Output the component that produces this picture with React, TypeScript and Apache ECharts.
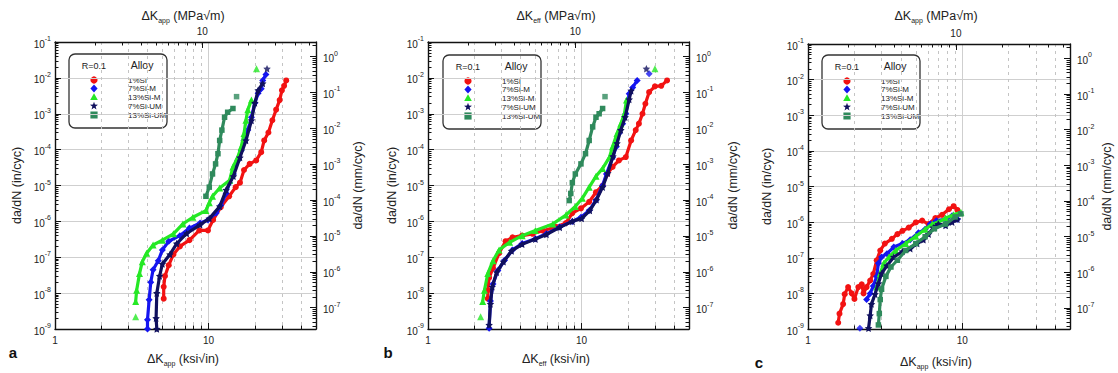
import React, { useEffect, useRef } from 'react';
import * as echarts from 'echarts';

const FONT = '"Liberation Sans", Arial, Helvetica, sans-serif';
const KSI_TO_MPA = 1.0988;
const IN_TO_MM = 25.4;
const X_MIN = 1;
const X_MAX = 50;
const Y_MIN = 1e-9;
const Y_MAX = 1e-1;

// tick labels
const bottomLabels = [1, 10];
const bottomMinorTicks = [2, 3, 4, 5, 6, 7, 8, 9, 20, 30, 40];
const topLabels = [10];
const topMinorTicks = [2, 3, 4, 5, 6, 7, 8, 9, 20, 30, 40, 50];
const leftExponents = [-9, -8, -7, -6, -5, -4, -3, -2, -1];
const rightExponents = [-7, -6, -5, -4, -3, -2, -1, 0];

const alloys = ['1%Si', '7%Si-M', '13%Si-M', '7%Si-UM', '13%Si-UM'];
const colors = ['#f21212', '#1515f0', '#25e825', '#10105e', '#2f8a5c'];

// ---------- panel a : ΔK_app ----------
const si1A = [[5.1, 7e-9], [5.1, 1.5e-8], [5.2, 3e-8], [5.5, 6e-8], [5.9, 1.2e-7], [6.5, 2e-7], [7.5, 3e-7], [8.7, 5.6e-7], [9.9, 5.6e-7], [10.7, 1.1e-6], [12, 2.5e-6], [13.6, 5e-6], [15, 9e-6], [16, 1.2e-5], [17, 2.7e-5], [18.5, 4e-5], [20.4, 5e-5], [22, 8.5e-5], [23, 1.8e-4], [24.5, 3e-4], [26, 6.6e-4], [27.5, 1.3e-3], [29, 2.4e-3], [30, 4.5e-3], [31, 6e-3], [32, 8.5e-3]];
const si7MA = [[4.0, 1e-9], [4.0, 1.8e-9], [4.1, 6.5e-9], [4.2, 2e-8], [4.35, 4.5e-8], [4.7, 8e-8], [5.0, 1.6e-7], [5.5, 2.8e-7], [6.5, 4e-7], [7.5, 6.5e-7], [8.8, 9e-7], [9.9, 1.1e-6], [11.2, 1.7e-6], [12, 2.8e-6], [13, 6e-6], [13.7, 1.2e-5], [14.5, 2.1e-5], [15.5, 5e-5], [16.3, 9.5e-5], [17, 1.8e-4], [18, 3.5e-4], [19, 8e-4], [20, 2e-3], [21, 3.7e-3], [22, 5e-3], [22.5, 8.5e-3], [23.6, 1.25e-2]];
const si13MA = [[3.35, 5.8e-9], [3.4, 1.2e-8], [3.55, 3.5e-8], [3.7, 7.5e-8], [3.95, 1.3e-7], [4.35, 2.2e-7], [5.0, 3e-7], [5.9, 4.5e-7], [6.8, 8.5e-7], [7.9, 1.3e-6], [9.6, 2e-6], [10.1, 3.3e-6], [10.6, 5e-6], [11.8, 8.5e-6], [13.7, 1.4e-5], [14.4, 3.3e-5], [15.5, 6.2e-5], [16.3, 1.2e-4], [17, 2.8e-4], [17.5, 6.6e-4], [18, 1.3e-3], [19, 2.4e-3]];
const si13MAOut = [[3.35, 2.2e-9], [20.5, 1.8e-2]];
const si7UMA = [[4.6, 1e-9], [4.55, 2e-9], [4.6, 1e-8], [4.8, 3e-8], [5.0, 6.5e-8], [5.6, 1.2e-7], [6.2, 2.4e-7], [7.2, 4.6e-7], [8.8, 8e-7], [10.1, 1.2e-6], [11.8, 2.6e-6], [13, 7.5e-6], [14.5, 1.8e-5], [16, 6e-5], [17.5, 1.8e-4], [19, 6.5e-4], [20, 2e-3], [21, 4.5e-3], [22.5, 7e-3]];
const si7UMAOut = [[24, 1.8e-2]];
const si13UMA = [[9.6, 5e-6], [10.1, 9e-6], [10.6, 2.1e-5], [11.1, 4e-5], [11.5, 7.7e-5], [11.8, 1.8e-4], [12.2, 3.5e-4], [12.7, 8e-4], [13.3, 1.1e-3], [14.4, 1.4e-3]];
const si13UMAOut = [[15.2, 3e-3]];

// ---------- panel b : ΔK_eff ----------
const si1B = [[2.45, 7e-9], [2.45, 1.2e-8], [2.5, 2.7e-8], [2.65, 5e-8], [2.9, 1.3e-7], [3.2, 2.8e-7], [3.55, 3.6e-7], [4.1, 4e-7], [4.8, 4.5e-7], [5.6, 5.5e-7], [6.8, 7e-7], [7.9, 9e-7], [8.7, 1.7e-6], [9.9, 2.3e-6], [11.2, 3.5e-6], [12.4, 6.5e-6], [13.7, 1e-5], [14.7, 2.1e-5], [15.9, 3.3e-5], [17.5, 5e-5], [19.4, 6.2e-5], [21, 1.8e-4], [22.5, 3.5e-4], [23.6, 5.3e-4], [24.9, 1e-3], [26, 1.9e-3], [27.5, 4e-3], [30, 5.8e-3], [33, 6e-3], [36, 8.5e-3]];
const si7MB = [[2.5, 1.05e-9], [2.55, 6e-9], [2.65, 1.8e-8], [2.85, 4.3e-8], [3.15, 8.2e-8], [3.55, 1.6e-7], [4.1, 2.4e-7], [5.0, 3.3e-7], [5.9, 4.5e-7], [7.2, 7e-7], [8.7, 1e-6], [9.9, 1.3e-6], [11.2, 2e-6], [12.4, 3.9e-6], [13.7, 1e-5], [14.5, 2.1e-5], [15.9, 6e-5], [16.8, 1.2e-4], [17.5, 2.8e-4], [18.5, 5.3e-4], [19.4, 1e-3], [20.4, 3.6e-3], [21.5, 5.4e-3], [23, 8.5e-3]];
const si7MBOut = [[27.5, 1.3e-2]];
const si13MB = [[2.27, 5.8e-9], [2.33, 1.2e-8], [2.45, 3.5e-8], [2.65, 8e-8], [2.9, 1.6e-7], [3.4, 2.6e-7], [4.1, 4e-7], [5.0, 5.6e-7], [6.5, 8.5e-7], [7.9, 1.5e-6], [9.1, 2.6e-6], [10.1, 4.4e-6], [11.2, 9e-6], [12.4, 1.8e-5], [13.7, 3e-5], [15.2, 6.2e-5], [15.9, 1.2e-4], [17, 2.8e-4], [18, 5.3e-4], [19, 1e-3], [19.6, 2.4e-3]];
const si13MBOut = [[2.2, 2.2e-9], [30, 1.8e-2]];
const si7UMB = [[2.5, 1.3e-9], [2.55, 5e-9], [2.62, 1.5e-8], [2.8, 3.8e-8], [3.1, 7.5e-8], [3.5, 1.5e-7], [4.1, 2.3e-7], [5.0, 3.2e-7], [5.9, 4.3e-7], [7.2, 6.8e-7], [8.7, 1e-6], [10, 1.2e-6], [11.3, 2e-6], [12.5, 4e-6], [13.7, 9e-6], [14.8, 2.2e-5], [16, 6.5e-5], [17, 1.5e-4], [18, 3.5e-4], [19.2, 8e-4], [20.4, 2.5e-3], [21, 4.4e-3]];
const si7UMBOut = [[26.4, 1.8e-2]];
const si13UMB = [[8.3, 3.8e-6], [8.5, 6e-6], [8.7, 1.2e-5], [9.1, 2.1e-5], [9.9, 4e-5], [10.6, 7.7e-5], [11.2, 1.8e-4], [11.8, 4.3e-4], [12.4, 8e-4], [13, 1e-3], [13.7, 1.4e-3]];
const si13UMBOut = [[14.2, 3e-3]];

// ---------- panel c : ΔK_app ----------
const si1C = [[1.57, 1.5e-9], [1.6, 2.7e-9], [1.69, 5e-9], [1.73, 9.5e-9], [1.82, 1.5e-8], [1.92, 1e-8], [2.0, 7e-9], [2.12, 1.5e-8], [2.23, 1.8e-8], [2.29, 1e-8], [2.4, 1.5e-8], [2.53, 2.3e-8], [2.65, 3.5e-8], [2.79, 8.5e-8], [2.94, 1.6e-7], [3.15, 2.5e-7], [3.5, 3.4e-7], [3.8, 4.6e-7], [4.1, 5.7e-7], [4.5, 7e-7], [5.0, 9.8e-7], [5.5, 1.1e-6], [6.05, 8.8e-7], [6.7, 1.3e-6], [7.4, 1.6e-6], [8.2, 2.3e-6], [8.8, 2.8e-6], [9.3, 2.2e-6]];
const si7MC = [[2.4, 6.7e-9], [2.53, 1e-8], [2.65, 1.6e-8], [2.79, 3e-8], [2.86, 7e-8], [3.0, 1.05e-7], [3.25, 1.3e-7], [3.6, 2e-7], [4.1, 2.5e-7], [4.6, 3.2e-7], [5.2, 5e-7], [5.75, 6.3e-7], [6.2, 8.8e-7], [6.8, 1.1e-6], [7.8, 1.2e-6], [8.6, 1.5e-6], [9.3, 1.2e-6]];
const si7MCOut = [[2.17, 1.05e-9]];
const si13MC = [[2.79, 1.5e-8], [2.94, 3.6e-8], [3.1, 7e-8], [3.35, 1.05e-7], [3.7, 1.6e-7], [4.3, 2.5e-7], [5.0, 4e-7], [5.75, 6.3e-7], [6.4, 8.8e-7], [7.0, 1e-6], [7.8, 1.3e-6], [8.8, 1.6e-6], [9.8, 1.9e-6]];
const si7UMC = [[2.47, 1.05e-9], [2.53, 2.4e-9], [2.58, 5e-9], [2.72, 9.5e-9], [2.86, 1.9e-8], [3.0, 3.6e-8], [3.25, 6e-8], [3.6, 1.05e-7], [4.1, 1.5e-7], [4.6, 1.8e-7], [5.1, 2.5e-7], [5.6, 3.2e-7], [6.05, 4.6e-7], [6.5, 7e-7], [7.0, 8.8e-7], [7.8, 8e-7], [8.6, 1e-6], [9.3, 1.2e-6]];
const si13UMC = [[2.86, 1.3e-9], [2.9, 2.7e-9], [2.94, 6.7e-9], [3.0, 1.3e-8], [3.2, 3e-8], [3.45, 5.5e-8], [3.8, 8.5e-8], [4.3, 1.6e-7], [5.0, 2.5e-7], [5.75, 3.9e-7], [6.6, 6.5e-7], [7.8, 8.8e-7], [9.0, 1.4e-6], [9.8, 1.7e-6]];

const panels = [
  {
    letter: 'a', sub: 'app', grid: { left: 55, top: 42, width: 261, height: 287 },
    leftName: 17, rightName: 358, letterPos: [13, 352], botTitleY: 359,
    legend: [69, 54],
    lines: [si1A, si7MA, si13MA, si7UMA, si13UMA],
    outliers: [[], [], si13MAOut, si7UMAOut, si13UMAOut],
  },
  {
    letter: 'b', sub: 'eff', grid: { left: 428, top: 42, width: 261, height: 287 },
    leftName: 392, rightName: 733, letterPos: [388, 352], botTitleY: 359,
    legend: [443, 55],
    lines: [si1B, si7MB, si13MB, si7UMB, si13UMB],
    outliers: [[], si7MBOut, si13MBOut, si7UMBOut, si13UMBOut],
  },
  {
    letter: 'c', sub: 'app', grid: { left: 808, top: 44, width: 262, height: 285 },
    leftName: 767, rightName: 1107, letterPos: [759, 362], botTitleY: 362,
    legend: [822, 55],
    lines: [si1C, si7MC, si13MC, si7UMC, si13UMC],
    outliers: [[], si7MCOut, [], [], []],
  },
];

const STAR = 'path://M0,-10L2.94,-4.05L9.51,-3.09L4.76,1.55L5.88,8.09L0,5L-5.88,8.09L-4.76,1.55L-9.51,-3.09L-2.94,-4.05Z';
const symbols = ['circle', 'diamond', 'triangle', STAR, 'rect'];
const symbolSizes = [6, 7, 7, 7.5, 5.5];

const pow10 = (e: number) => Math.pow(10, e);
const minorTicks = (eFrom: number, eTo: number, lo: number, hi: number) => {
  const out: number[] = [];
  for (let e = eFrom; e <= eTo; e++) for (let m = 2; m <= 9; m++) {
    const v = m * pow10(e);
    if (v > lo && v < hi) out.push(v);
  }
  return out;
};

const expLabel = (v: number) => `{b|10}{s|${Math.round(Math.log10(v))}}`;
const expRich = {
  b: { fontSize: 10, fontFamily: FONT, color: '#222', lineHeight: 14, verticalAlign: 'bottom' },
  s: { fontSize: 7, fontFamily: FONT, color: '#222', verticalAlign: 'top' },
};

function logAxis(o: any) {
  return {
    type: 'log', logBase: 10, gridIndex: o.grid, position: o.position, min: o.min, max: o.max,
    axisLine: { show: o.line, onZero: false, lineStyle: { color: '#111', width: 1.4 } },
    axisTick: { show: true, inside: true, length: o.tickLen, customValues: o.ticks, lineStyle: { color: '#111', width: 1 } },
    axisLabel: o.labels
      ? { show: true, customValues: o.labels, formatter: o.formatter, rich: o.rich, margin: o.margin, fontSize: 10, fontFamily: FONT, color: '#222', showMinLabel: true, showMaxLabel: true }
      : { show: false },
    splitLine: o.split ? { show: true, lineStyle: o.split } : { show: false },
    minorTick: { show: false },
    minorSplitLine: { show: false },
  };
}

function buildOption() {
  const grid: any[] = [];
  const xAxis: any[] = [];
  const yAxis: any[] = [];
  const series: any[] = [];
  const graphic: any[] = [];

  panels.forEach((p, i) => {
    grid.push({ ...p.grid, containLabel: false });
    // bottom ksi√in
    xAxis.push(logAxis({ grid: i, position: 'bottom', min: X_MIN, max: X_MAX, line: true, tickLen: 6, ticks: bottomLabels, labels: bottomLabels, formatter: (v: number) => String(Math.round(v)), margin: 6, split: { color: '#cfcfcf', width: 1 } }));
    xAxis.push(logAxis({ grid: i, position: 'bottom', min: X_MIN, max: X_MAX, line: false, tickLen: 3.5, ticks: bottomMinorTicks, split: { color: '#c4c4c4', width: 1, type: [3, 4] } }));
    // top MPa√m
    xAxis.push(logAxis({ grid: i, position: 'top', min: X_MIN * KSI_TO_MPA, max: X_MAX * KSI_TO_MPA, line: true, tickLen: 6, ticks: topLabels, labels: topLabels, formatter: (v: number) => String(Math.round(v)), margin: 6 }));
    xAxis.push(logAxis({ grid: i, position: 'top', min: X_MIN * KSI_TO_MPA, max: X_MAX * KSI_TO_MPA, line: false, tickLen: 3.5, ticks: topMinorTicks }));
    // left in/cyc
    const leftVals = leftExponents.map(pow10);
    yAxis.push(logAxis({ grid: i, position: 'left', min: Y_MIN, max: Y_MAX, line: true, tickLen: 6, ticks: leftVals, labels: leftVals, formatter: expLabel, rich: expRich, margin: 4, split: { color: '#cfcfcf', width: 1 } }));
    yAxis.push(logAxis({ grid: i, position: 'left', min: Y_MIN, max: Y_MAX, line: false, tickLen: 3.5, ticks: minorTicks(-9, -2, Y_MIN, Y_MAX) }));
    // right mm/cyc
    const rMin = Y_MIN * IN_TO_MM, rMax = Y_MAX * IN_TO_MM;
    const rightVals = rightExponents.map(pow10);
    yAxis.push(logAxis({ grid: i, position: 'right', min: rMin, max: rMax, line: true, tickLen: 6, ticks: rightVals, labels: rightVals, formatter: expLabel, rich: expRich, margin: 7 }));
    yAxis.push(logAxis({ grid: i, position: 'right', min: rMin, max: rMax, line: false, tickLen: 3.5, ticks: minorTicks(-8, 0, rMin, rMax) }));

    alloys.forEach((name, j) => {
      series.push({
        type: 'line', name, xAxisIndex: 4 * i, yAxisIndex: 4 * i, data: p.lines[j],
        symbol: symbols[j], symbolSize: symbolSizes[j], showSymbol: true,
        lineStyle: { color: colors[j], width: 3.2 }, itemStyle: { color: colors[j] },
        z: 3 + j, silent: true,
      });
      if (p.outliers[j].length) {
        series.push({
          type: 'scatter', name, xAxisIndex: 4 * i, yAxisIndex: 4 * i, data: p.outliers[j],
          symbol: symbols[j], symbolSize: symbolSizes[j], itemStyle: { color: colors[j] }, z: 3 + j, silent: true,
        });
      }
    });

    const cx = p.grid.left + 128;
    const titleRich = {
      m: { fontSize: 12.5, fontFamily: FONT, fill: '#222', color: '#222', lineHeight: 16 },
      s: { fontSize: 7, fontFamily: FONT, fill: '#222', color: '#222', verticalAlign: 'bottom' },
    };
    graphic.push({ type: 'text', x: cx, y: 16, style: { text: `{m|ΔK}{s|${p.sub}}{m| (MPa√m)}`, rich: titleRich, align: 'center', verticalAlign: 'middle', textAlign: 'center', textVerticalAlign: 'middle' } });
    graphic.push({ type: 'text', x: cx, y: p.botTitleY, style: { text: `{m|ΔK}{s|${p.sub}}{m| (ksi√in)}`, rich: titleRich, align: 'center', verticalAlign: 'middle', textAlign: 'center', textVerticalAlign: 'middle' } });
    const midY = p.grid.top + p.grid.height / 2;
    graphic.push({ type: 'text', x: p.leftName, y: midY, rotation: Math.PI / 2, style: { text: 'da/dN (in/cyc)', font: `12.5px ${FONT}`, fill: '#222', align: 'center', verticalAlign: 'middle', textAlign: 'center', textVerticalAlign: 'middle' } });
    graphic.push({ type: 'text', x: p.rightName, y: midY, rotation: Math.PI / 2, style: { text: 'da/dN (mm/cyc)', font: `12.5px ${FONT}`, fill: '#222', align: 'center', verticalAlign: 'middle', textAlign: 'center', textVerticalAlign: 'middle' } });
    graphic.push({ type: 'text', x: p.letterPos[0], y: p.letterPos[1], style: { text: p.letter, font: `bold 15px ${FONT}`, fill: '#111', align: 'center', verticalAlign: 'middle', textAlign: 'center', textVerticalAlign: 'middle' } });

    // legend box
    const [lx, ly] = p.legend;
    const rows = [26, 34.5, 43, 52, 61];
    const children: any[] = [
      { type: 'rect', shape: { x: 0, y: 0, width: 98, height: 74, r: 6 }, style: { fill: '#fff', stroke: '#333', lineWidth: 1.3 } },
      { type: 'text', x: 25, y: 12, style: { text: 'R=0.1', font: `9px ${FONT}`, fill: '#222', align: 'center', verticalAlign: 'middle', textAlign: 'center', textVerticalAlign: 'middle' } },
      { type: 'text', x: 73, y: 11, style: { text: 'Alloy', font: `10.5px ${FONT}`, fill: '#222', align: 'center', verticalAlign: 'middle', textAlign: 'center', textVerticalAlign: 'middle' } },
    ];
    const sx = 25;
    const starPts: number[][] = [];
    for (let k = 0; k < 10; k++) {
      const r = k % 2 === 0 ? 4.2 : 1.7;
      const a = -Math.PI / 2 + (k * Math.PI) / 5;
      starPts.push([sx + r * Math.cos(a), rows[3] + r * Math.sin(a)]);
    }
    children.push({ type: 'circle', shape: { cx: sx, cy: rows[0], r: 3.6 }, style: { fill: colors[0] } });
    children.push({ type: 'polygon', shape: { points: [[sx, rows[1] - 4], [sx + 3.6, rows[1]], [sx, rows[1] + 4], [sx - 3.6, rows[1]]] }, style: { fill: colors[1] } });
    children.push({ type: 'polygon', shape: { points: [[sx, rows[2] - 3.8], [sx + 3.8, rows[2] + 3], [sx - 3.8, rows[2] + 3]] }, style: { fill: colors[2] } });
    children.push({ type: 'polygon', shape: { points: starPts }, style: { fill: colors[3] } });
    children.push({ type: 'rect', shape: { x: sx - 3.6, y: rows[4] - 3.6, width: 7.2, height: 7.2 }, style: { fill: colors[4] } });
    alloys.forEach((name, j) => {
      children.push({ type: 'text', x: 59, y: rows[j], style: { text: name, font: `8px ${FONT}`, fill: '#222', align: 'left', verticalAlign: 'middle', textAlign: 'left', textVerticalAlign: 'middle' } });
    });
    graphic.push({ type: 'group', x: lx, y: ly, z: 100, children });
  });

  return { animation: false, backgroundColor: '#fff', grid, xAxis, yAxis, series, graphic };
}

export default function App() {
  const ref = useRef<HTMLDivElement>(null);
  useEffect(() => {
    if (!ref.current) return;
    const chart = echarts.init(ref.current, undefined, { renderer: 'svg' });
    chart.setOption(buildOption() as any);
    return () => chart.dispose();
  }, []);
  return <div ref={ref} style={{ position: 'fixed', left: 0, top: 0, width: 1118, height: 373, background: '#fff' }} />;
}
